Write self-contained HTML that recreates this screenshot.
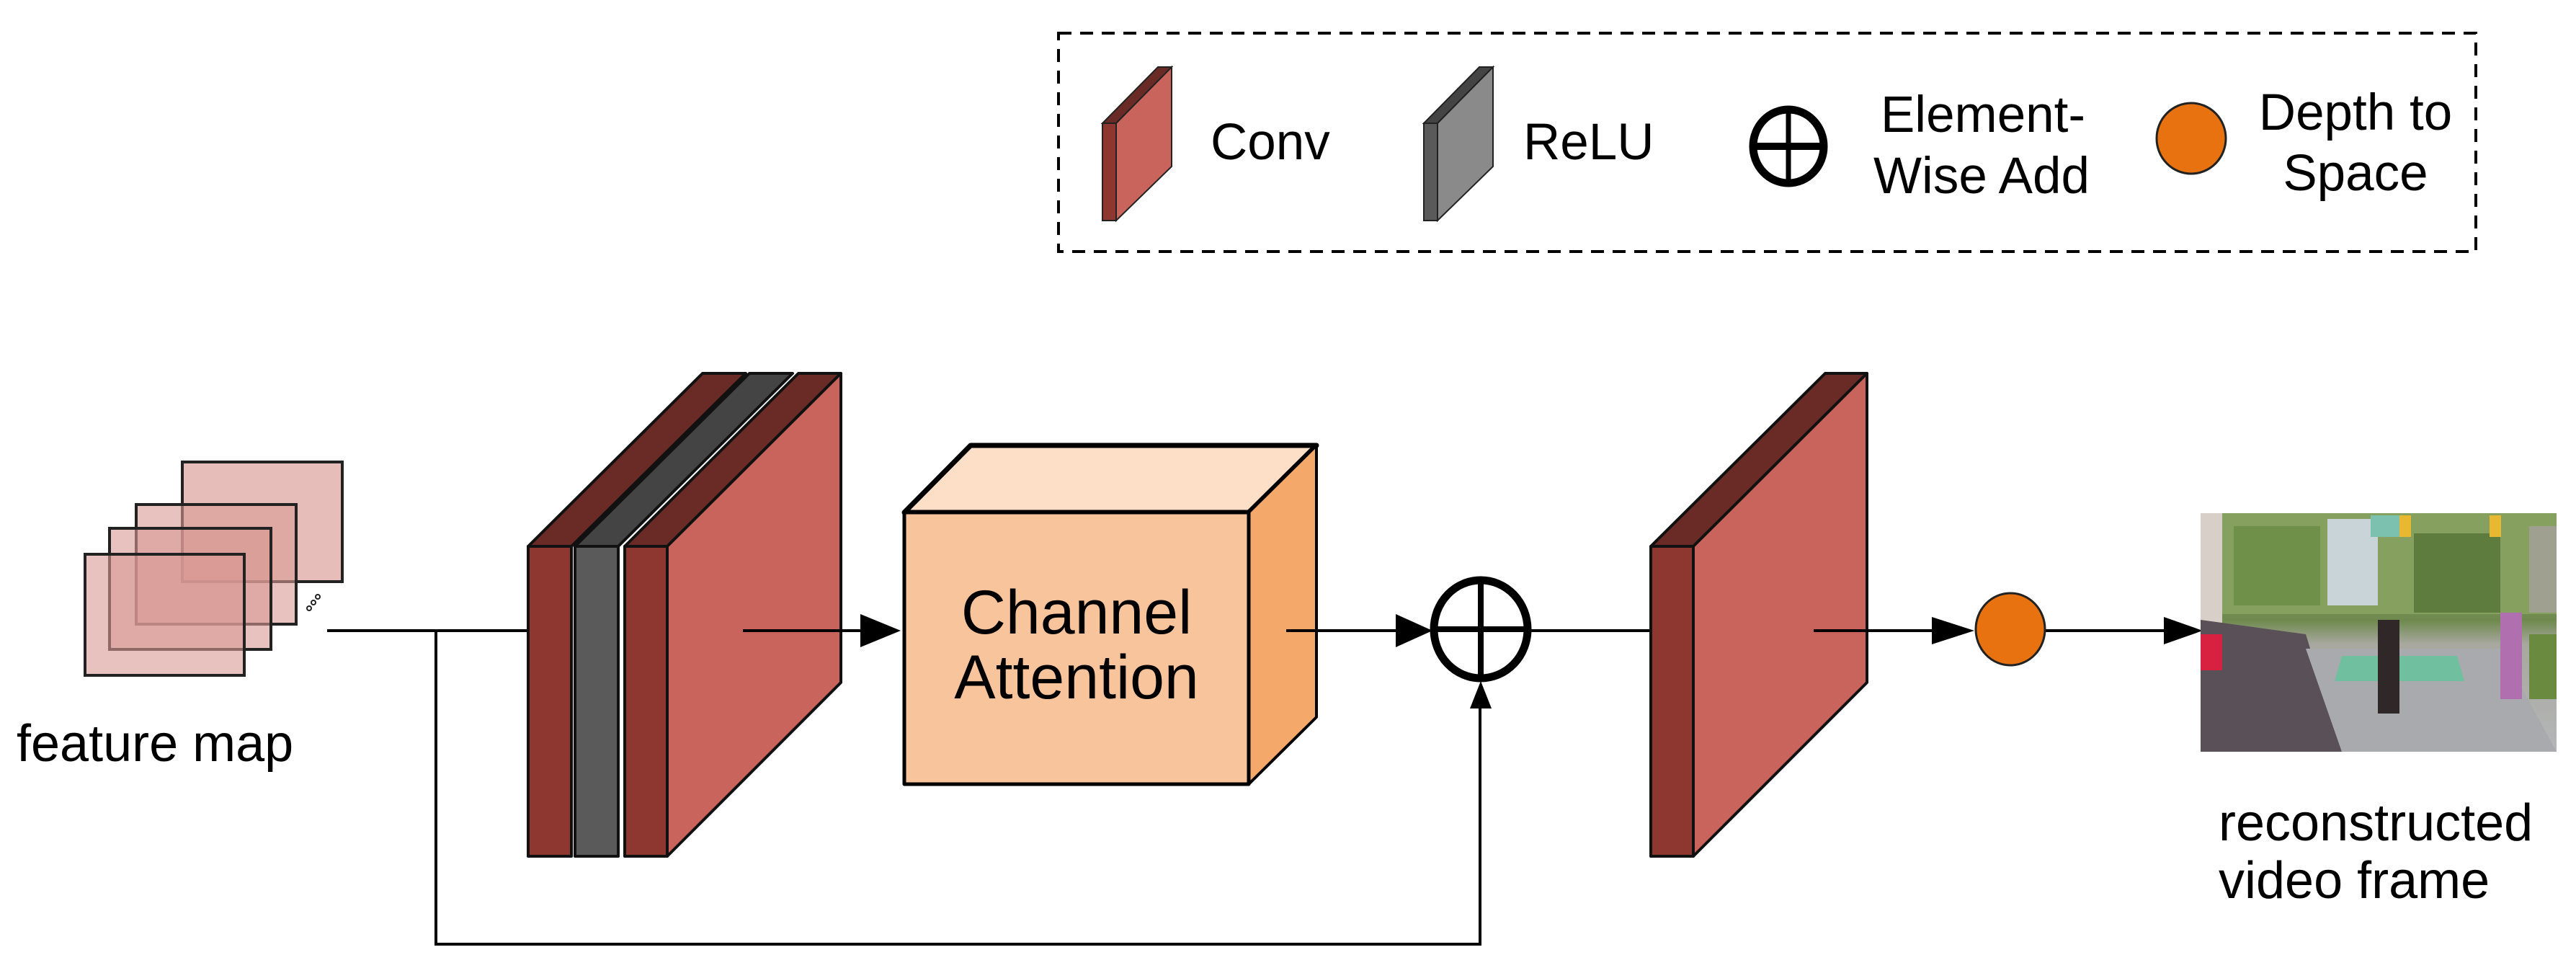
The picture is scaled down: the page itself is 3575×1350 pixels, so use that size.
<!DOCTYPE html>
<html><head><meta charset="utf-8"><style>
html,body{margin:0;padding:0;background:#fff;}
svg{display:block;}
text{font-family:"Liberation Sans",Arial,sans-serif;fill:#000;}
</style></head><body>
<svg width="3575" height="1350" viewBox="0 0 3575 1350" xmlns="http://www.w3.org/2000/svg">
<defs>
<linearGradient id="sky" x1="0" y1="0" x2="0" y2="1">
<stop offset="0" stop-color="#9aa87a"/><stop offset="0.45" stop-color="#6f8a4e"/><stop offset="0.55" stop-color="#a8a8a0"/><stop offset="1" stop-color="#b4b6b8"/>
</linearGradient>
</defs>

<!-- Legend dashed box -->
<rect x="1469" y="46" width="1967" height="303" fill="none" stroke="#000" stroke-width="4" stroke-dasharray="18,12"/>
<!-- Conv legend -->
<polygon points="1530,171 1549,171 1626,93 1607,93" fill="#6a2a25" stroke="#222" stroke-width="2"/>
<polygon points="1549,171 1626,93 1626,231 1549,306" fill="#c9645c" stroke="#222" stroke-width="2"/>
<rect x="1530" y="171" width="19" height="135" fill="#8e3730" stroke="#222" stroke-width="2"/>
<text x="1680" y="221" font-size="71">Conv</text>
<!-- ReLU legend -->
<polygon points="1976,171 1995,171 2072,93 2053,93" fill="#444" stroke="#222" stroke-width="2"/>
<polygon points="1995,171 2072,93 2072,231 1995,306" fill="#8a8a8a" stroke="#222" stroke-width="2"/>
<rect x="1976" y="171" width="19" height="135" fill="#5a5a5a" stroke="#222" stroke-width="2"/>
<text x="2114" y="221" font-size="71">ReLU</text>
<!-- Add legend -->
<ellipse cx="2482" cy="203" rx="49" ry="51" fill="none" stroke="#000" stroke-width="11"/>
<line x1="2433" y1="203" x2="2531" y2="203" stroke="#000" stroke-width="10"/>
<line x1="2482" y1="152" x2="2482" y2="254" stroke="#000" stroke-width="7"/>
<text x="2752" y="183" font-size="71" text-anchor="middle">Element-</text>
<text x="2750" y="268" font-size="71" text-anchor="middle">Wise Add</text>
<!-- D2S legend -->
<ellipse cx="3041" cy="192" rx="48" ry="49" fill="#e8720f" stroke="#222" stroke-width="3"/>
<text x="3269" y="180" font-size="71" text-anchor="middle">Depth to</text>
<text x="3269" y="264" font-size="71" text-anchor="middle">Space</text>

<!-- Feature maps -->
<g stroke="#222" stroke-width="4">
<rect x="253" y="641" width="222" height="166" fill="#e6bdb8"/>
<rect x="189" y="700" width="222" height="166" fill="#d89a94" fill-opacity="0.6"/>
<rect x="152" y="733" width="224" height="168" fill="#d89a94" fill-opacity="0.6"/>
<rect x="118" y="769" width="221" height="168" fill="#d89a94" fill-opacity="0.6"/>
</g>
<circle cx="429" cy="844" r="3" fill="none" stroke="#222" stroke-width="2"/>
<circle cx="435" cy="836" r="3" fill="none" stroke="#222" stroke-width="2"/>
<circle cx="441" cy="828" r="3" fill="none" stroke="#222" stroke-width="2"/>
<text x="23" y="1056" font-size="72">feature map</text>

<!-- connectors -->
<g stroke="#000" stroke-width="4" fill="none">
<line x1="454" y1="875" x2="733" y2="875"/>
<polyline points="605,875 605,1310 2054,1310 2054,975"/>
<line x1="1785" y1="875" x2="1945" y2="875"/>
<line x1="2124" y1="875" x2="2291" y2="875"/>
<line x1="2838" y1="875" x2="3010" y2="875"/>
</g>

<!-- Conv block 1 -->
<g stroke="#111" stroke-width="4" stroke-linejoin="round">
<polygon points="733,758 793,758 1035,518 975,518" fill="#6a2a25"/>
<rect x="733" y="758" width="60" height="430" fill="#8e3730"/>
<polygon points="798,758 858,758 1100,518 1040,518" fill="#444"/>
<rect x="798" y="758" width="60" height="430" fill="#5a5a5a"/>
<polygon points="867,758 926,758 1167,518 1108,518" fill="#6a2a25"/>
<polygon points="926,758 1167,518 1167,947 926,1188" fill="#c9645c"/>
<rect x="867" y="758" width="59" height="430" fill="#8e3730"/>
</g>
<line x1="1031" y1="875" x2="1200" y2="875" stroke="#000" stroke-width="4"/>
<polygon points="1194,852 1250,875 1194,898" fill="#000"/>

<!-- Channel attention -->
<g stroke="#000" stroke-width="7" stroke-linejoin="round">
<polygon points="1255,711 1733,711 1827,618 1347,618" fill="#fcdfc6"/>
<polygon points="1733,711 1827,618 1827,995 1733,1088" fill="#f4a96a" stroke-width="4"/>
<rect x="1255" y="711" width="478" height="377" fill="#f8c49c" stroke-width="5"/>
</g>
<text x="1494" y="879" font-size="86" text-anchor="middle">Channel</text>
<text x="1494" y="969" font-size="86" text-anchor="middle">Attention</text>
<line x1="1785" y1="875" x2="1945" y2="875" stroke="#000" stroke-width="4"/>
<polygon points="1937,852 1988,875 1937,898" fill="#000"/>

<!-- Add -->
<ellipse cx="2055" cy="873" rx="65" ry="68" fill="none" stroke="#000" stroke-width="11"/>
<line x1="1990" y1="873" x2="2120" y2="873" stroke="#000" stroke-width="8"/>
<line x1="2055" y1="805" x2="2055" y2="941" stroke="#000" stroke-width="8"/>
<polygon points="2040,983 2055,945 2070,983" fill="#000"/>

<!-- Conv block 2 -->
<g stroke="#111" stroke-width="4" stroke-linejoin="round">
<polygon points="2291,758 2350,758 2591,518 2533,518" fill="#6a2a25"/>
<polygon points="2350,758 2591,518 2591,947 2350,1188" fill="#c9645c"/>
<rect x="2291" y="758" width="59" height="430" fill="#8e3730"/>
</g>
<line x1="2517" y1="875" x2="2690" y2="875" stroke="#000" stroke-width="4"/>
<polygon points="2681,856 2740,875 2681,894" fill="#000"/>

<!-- D2S -->
<ellipse cx="2790" cy="873" rx="48" ry="50" fill="#e8720f" stroke="#222" stroke-width="3"/>
<polygon points="3003,856 3057,875 3003,894" fill="#000"/>

<!-- Photo -->
<g>
<rect x="3054" y="712" width="494" height="331" fill="url(#sky)"/>
<rect x="3054" y="712" width="494" height="140" fill="#86a060"/>
<rect x="3100" y="730" width="120" height="110" fill="#6e9048"/>
<rect x="3350" y="740" width="120" height="110" fill="#5e7c3e"/>
<rect x="3230" y="720" width="70" height="120" fill="#c8d4d8"/>
<rect x="3290" y="715" width="40" height="30" fill="#7cc0b0"/>
<rect x="3330" y="715" width="16" height="30" fill="#e8b830"/>
<rect x="3455" y="715" width="16" height="30" fill="#e8b830"/>
<rect x="3054" y="712" width="30" height="180" fill="#d8d0c8"/>
<rect x="3510" y="730" width="38" height="120" fill="#a0a090"/>
<polygon points="3054,1043 3054,860 3200,880 3250,1043" fill="#5a5058"/>
<rect x="3054" y="880" width="30" height="50" fill="#d82040"/>
<polygon points="3200,900 3470,900 3548,1043 3250,1043" fill="#a8aaae"/>
<polygon points="3250,910 3410,910 3420,945 3240,945" fill="#70c0a0"/>
<rect x="3300" y="860" width="30" height="130" fill="#302828"/>
<rect x="3470" y="850" width="30" height="120" fill="#b070b0"/>
<rect x="3510" y="880" width="38" height="90" fill="#6a8a40"/>
</g>
<text x="3079" y="1166" font-size="72">reconstructed</text>
<text x="3079" y="1246" font-size="72">video frame</text>
</svg>
</body></html>
